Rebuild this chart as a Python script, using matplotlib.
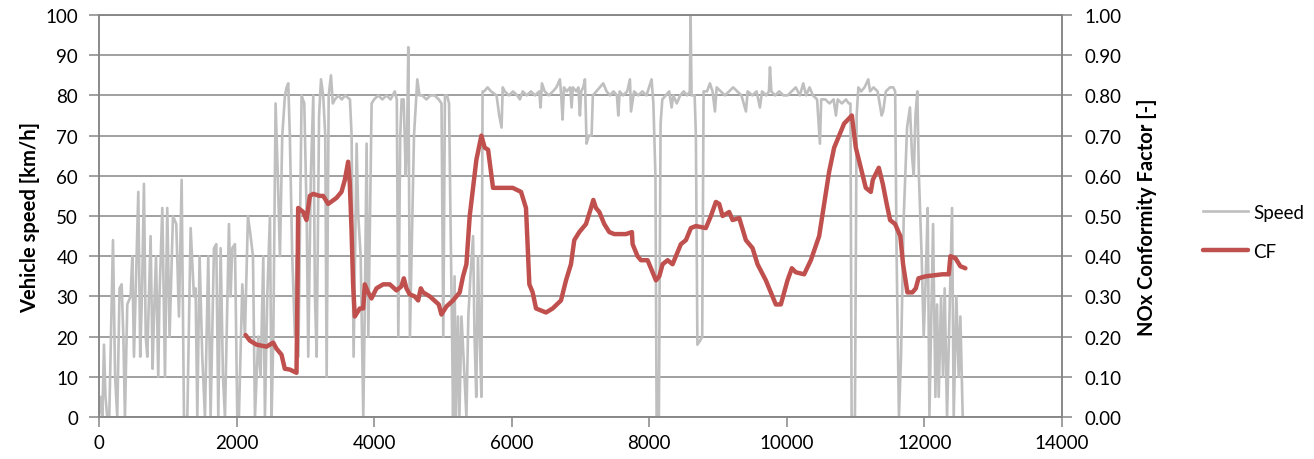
import numpy as np
import matplotlib.pyplot as plt
from matplotlib.ticker import FormatStrFormatter

plt.rcParams['font.family'] = ['Lato', 'DejaVu Sans']

# velocidade do veiculo (tempo [s], km/h)
tempo_vel = [0, 30, 50, 73, 95, 120, 150, 204, 235, 266,
             300, 330, 355, 378, 412, 460, 485, 509, 540, 572,
             600, 625, 654, 680, 703, 751, 780, 800, 830, 862,
             880, 921, 960, 993, 1027, 1076, 1124, 1163, 1202, 1236,
             1285, 1333, 1381, 1405, 1430, 1463, 1502, 1541, 1589, 1623,
             1672, 1706, 1735, 1769, 1803, 1832, 1890, 1914, 1938, 1977,
             2011, 2035, 2084, 2122, 2166, 2205, 2239, 2268, 2316, 2350,
             2389, 2413, 2447, 2486, 2510,
             2535, 2568, 2600, 2631, 2665, 2704, 2728, 2752, 2775, 2810,
             2849, 2874, 2900, 2946, 2985, 3020, 3043, 3080, 3116, 3140,
             3165, 3200, 3228, 3260, 3290, 3310, 3340, 3373, 3400, 3431,
             3480, 3530, 3580, 3649, 3673, 3702, 3746, 3770, 3805, 3843,
             3867, 3891, 3916, 3964, 4000, 4060, 4120, 4180, 4240, 4300,
             4330, 4352, 4380, 4400, 4430, 4460, 4480, 4497, 4521, 4545,
             4580, 4628, 4660, 4700, 4760, 4820, 4880, 4940, 4980, 5006,
             5030, 5060, 5090, 5110, 5130, 5148, 5170, 5190, 5220, 5240,
             5270, 5300, 5342, 5370, 5400, 5439, 5460, 5485, 5510, 5535,
             5560, 5577,
             5600, 5650, 5700, 5780, 5819, 5853, 5870, 5900, 5960, 6020,
             6080, 6120, 6160, 6220, 6280, 6340, 6400, 6420, 6440, 6480,
             6540, 6600, 6650, 6701, 6720, 6740, 6760, 6800, 6850, 6871,
             6890, 6940, 6970, 6992, 7010, 7040, 7065, 7089, 7120, 7162,
             7180, 7230, 7280, 7331, 7380, 7430, 7480, 7530, 7550, 7570,
             7620, 7680, 7719, 7735, 7780, 7840, 7900, 7960, 8034, 8060,
             8090, 8107, 8140, 8165, 8190, 8240, 8290, 8325, 8350, 8400,
             8450, 8500, 8550, 8590, 8601, 8615, 8660, 8678, 8700, 8740,
             8770, 8790, 8840, 8882, 8920, 8955, 8980, 9040, 9100, 9160,
             9220, 9280, 9340, 9406, 9430, 9500, 9560, 9609, 9640, 9700,
             9740, 9755, 9775, 9830, 9890, 9950, 10010, 10070, 10130, 10190,
             10239, 10280, 10330, 10380, 10440, 10481, 10500, 10560, 10620, 10680,
             10714, 10740, 10800, 10860, 10900, 10925, 10942, 10990, 11015, 11040,
             11080, 11130, 11184, 11210, 11260, 11320, 11378, 11400, 11440, 11500,
             11548, 11575,
             11596, 11630, 11660, 11700, 11748, 11790, 11820, 11845, 11870, 11897,
             11920, 11960, 11990, 12020, 12048, 12073, 12100, 12126, 12160, 12184,
             12208, 12242, 12271, 12295, 12329, 12368, 12402, 12426, 12465, 12499,
             12523, 12557]
velocidade = [0, 5, 0, 18, 5, 0, 0, 44, 10, 0,
              32, 33, 20, 0, 28, 30, 40, 15, 35, 56,
              15, 30, 58, 20, 15, 45, 12, 25, 40, 10,
              30, 52, 10, 52, 20, 50, 48, 25, 59, 0,
              0, 47, 30, 32, 0, 40, 15, 0, 40, 0,
              42, 43, 0, 42, 10, 0, 48, 30, 42, 43,
              0, 0, 33, 20, 50, 45, 40, 0, 20, 10,
              40, 0, 30, 50, 0,
              20, 78, 60, 40, 70, 80, 82, 83, 70, 40,
              20, 40, 15, 80, 78, 50, 15, 60, 80, 30,
              15, 75, 84, 80, 70, 10, 80, 85, 78, 79,
              80, 79, 80, 79, 70, 15, 68, 50, 40, 0,
              30, 68, 20, 78, 79, 80, 79, 80, 79, 81,
              79, 20, 70, 79, 79, 60, 70, 92, 20, 40,
              70, 84, 80, 80, 79, 80, 80, 79, 78, 20,
              80, 80, 78, 50, 25, 0, 35, 0, 25, 0,
              25, 15, 0, 25, 35, 45, 20, 5, 40, 20,
              5, 81,
              81, 82, 81, 80, 75, 72, 82, 81, 80, 81,
              80, 79, 81, 80, 81, 80, 81, 77, 83, 81,
              80, 81, 82, 84, 80, 74, 82, 81, 82, 77,
              82, 81, 82, 75, 81, 82, 84, 68, 70, 70,
              80, 81, 82, 83, 81, 80, 81, 80, 75, 81,
              80, 81, 84, 76, 81, 80, 81, 80, 84, 78,
              60, 0, 0, 73, 79, 80, 81, 77, 80, 78,
              80, 81, 80, 81, 100, 80, 80, 70, 18, 19,
              20, 81, 81, 83, 81, 76, 82, 81, 80, 81,
              82, 81, 80, 76, 81, 80, 81, 77, 81, 80,
              81, 87, 81, 80, 81, 80, 80, 81, 82, 80,
              83, 80, 82, 80, 79, 68, 79, 79, 78, 79,
              75, 79, 78, 79, 78, 78, 0, 0, 75, 82,
              81, 82, 84, 81, 82, 81, 75, 76, 81, 82,
              82, 81,
              40, 0, 15, 50, 72, 77, 65, 60, 75, 81,
              60, 40, 20, 35, 52, 0, 25, 48, 5, 28,
              5, 30, 10, 32, 0, 28, 52, 0, 30, 10,
              25, 0]

# fator de conformidade NOx
tempo_cf = [2131, 2194, 2290, 2436, 2533, 2581, 2654, 2702, 2775, 2872, 2885, 2896,
            2969, 3017, 3066, 3114, 3211, 3260, 3332, 3453, 3526, 3575, 3623, 3647,
            3671, 3695, 3719, 3792, 3841, 3865, 3913, 3962, 4034, 4131, 4228, 4325,
            4397, 4432, 4470, 4518, 4591, 4640, 4679, 4712, 4810, 4940, 4979, 5052,
            5148, 5245, 5293, 5342, 5390, 5439, 5487, 5560, 5608, 5657, 5729, 5800,
            5950, 6015, 6136, 6208, 6257, 6305, 6354, 6426, 6499, 6596, 6717, 6790,
            6862, 6910, 6983, 7080, 7153, 7187, 7225, 7274, 7346, 7419, 7492, 7661,
            7748, 7758, 7830, 7879, 7976, 8049, 8097, 8146, 8194, 8267, 8339, 8388,
            8460, 8533, 8605, 8678, 8823, 8896, 8969, 9017, 9066, 9162, 9211, 9308,
            9405, 9502, 9574, 9695, 9792, 9840, 9913, 10010, 10073, 10131, 10252,
            10349, 10470, 10543, 10615, 10688, 10761, 10833, 10945, 11003, 11075,
            11148, 11221, 11250, 11337, 11395, 11452, 11501, 11574, 11650, 11690,
            11753, 11826, 11875, 11914, 12020, 12262, 12354, 12378, 12451, 12523, 12596]
cf = [0.204, 0.19, 0.18, 0.175, 0.185, 0.17, 0.155, 0.12, 0.118, 0.11, 0.30, 0.52,
      0.51, 0.49, 0.55, 0.555, 0.55, 0.55, 0.53, 0.545, 0.56, 0.59, 0.635, 0.58,
      0.47, 0.33, 0.25, 0.27, 0.27, 0.33, 0.31, 0.295, 0.32, 0.33, 0.33, 0.315,
      0.325, 0.345, 0.32, 0.305, 0.30, 0.29, 0.32, 0.31, 0.30, 0.28, 0.255, 0.275,
      0.29, 0.31, 0.35, 0.38, 0.50, 0.57, 0.64, 0.70, 0.67, 0.665, 0.57, 0.57,
      0.57, 0.57, 0.56, 0.52, 0.33, 0.31, 0.27, 0.265, 0.26, 0.27, 0.29, 0.34,
      0.38, 0.44, 0.46, 0.48, 0.52, 0.54, 0.52, 0.51, 0.48, 0.46, 0.455, 0.455,
      0.46, 0.43, 0.40, 0.39, 0.39, 0.36, 0.34, 0.35, 0.38, 0.39, 0.38, 0.40,
      0.43, 0.44, 0.47, 0.475, 0.47, 0.50, 0.535, 0.53, 0.50, 0.51, 0.49, 0.495,
      0.44, 0.42, 0.38, 0.34, 0.30, 0.28, 0.28, 0.34, 0.37, 0.36, 0.355,
      0.39, 0.45, 0.53, 0.61, 0.67, 0.70, 0.73, 0.75, 0.67, 0.62,
      0.57, 0.56, 0.59, 0.62, 0.58, 0.53, 0.49, 0.48, 0.45, 0.38,
      0.31, 0.31, 0.32, 0.345, 0.35, 0.355, 0.355, 0.40, 0.395, 0.375, 0.37]

cor_grade = '#868686'

fig = plt.figure(figsize=(13.14, 4.6), dpi=100)
ax = fig.add_axes([0.0753, 0.0913, 0.7329, 0.8739])
ax2 = ax.twinx()

ax.plot(tempo_vel, velocidade, color='#BFBFBF', lw=1.9, label='Speed')
ax2.plot(tempo_cf, cf, color='#C0504D', lw=3.2, label='CF', solid_capstyle='round')

ax.set_xlim(0, 14000)
ax.set_ylim(0, 100)
ax2.set_ylim(0, 1)
ax.set_xticks(np.arange(0, 14001, 2000))
ax.set_yticks(np.arange(0, 101, 10))
ax2.set_yticks(np.arange(0, 1.01, 0.1))
ax2.yaxis.set_major_formatter(FormatStrFormatter('%.2f'))

ax.grid(axis='y', color=cor_grade, lw=1.1)
ax.set_axisbelow(True)
for a in (ax, ax2):
    for s in a.spines.values():
        s.set_color(cor_grade)
        s.set_linewidth(1.1)
    a.tick_params(colors=cor_grade, labelcolor='black', labelsize=13.5, length=7, width=1.1)
ax.tick_params(axis='y', pad=8)
ax2.tick_params(axis='y', pad=9)
ax.tick_params(axis='x', pad=5)

ax.set_ylabel('Vehicle speed [km/h]', fontsize=14.5, fontweight='bold', labelpad=4)
ax2.set_ylabel('NOx Conformity Factor [-]', fontsize=14.5, fontweight='bold', labelpad=11)

h1, l1 = ax.get_legend_handles_labels()
h2, l2 = ax2.get_legend_handles_labels()
fig.legend(h1 + h2, l1 + l2, loc='center left', bbox_to_anchor=(0.903, 0.494),
           frameon=False, fontsize=13.5, handlelength=2.4, handletextpad=0.25,
           labelspacing=1.2)

fig.savefig('out.png', dpi=100)
